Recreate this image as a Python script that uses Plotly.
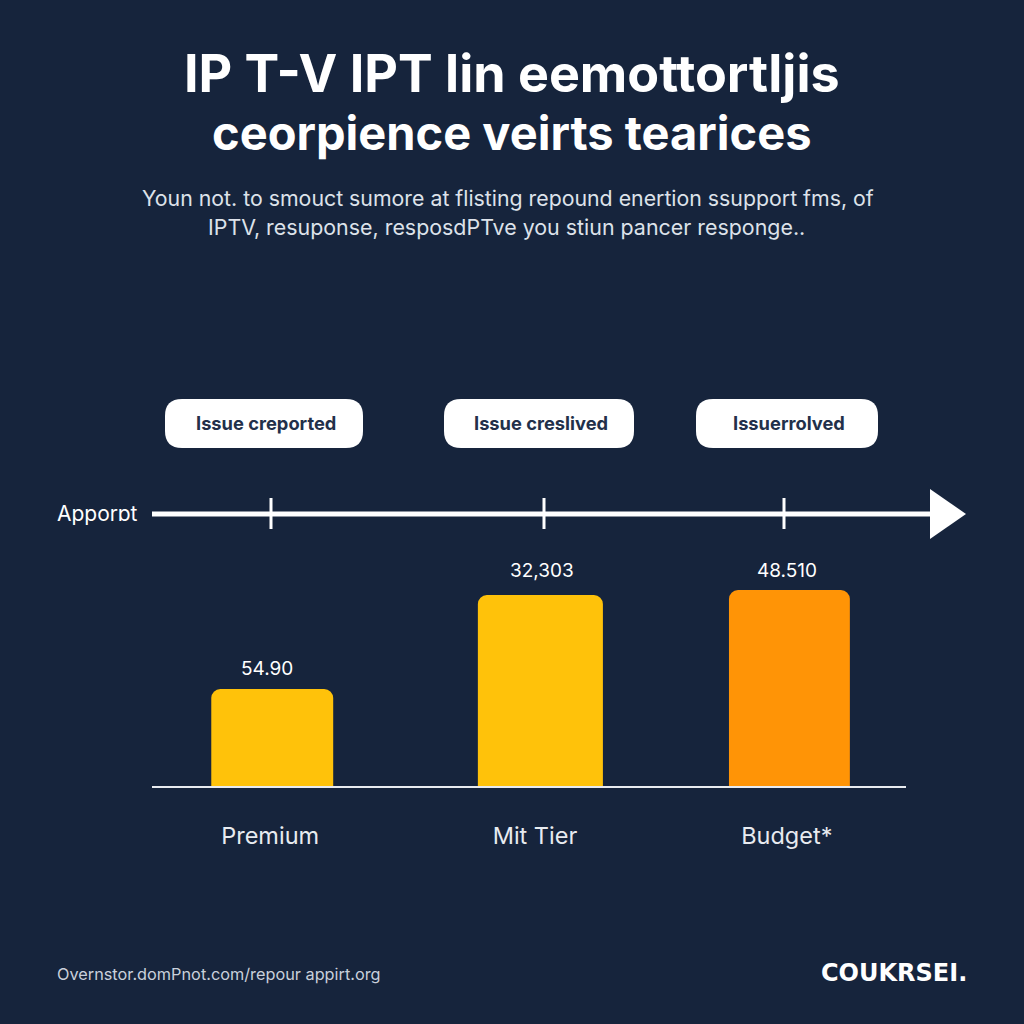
import plotly.graph_objects as go

categories = ["Premium", "Mit Tier", "Budget*"]
values = [98, 192, 197]
value_labels = ["54.90", "32,303", "48.510"]
title_lines = ["IP T-V IPT lin eemottortljis", "ceorpience veirts tearices"]
sub_lines = ["Youn not. to smouct sumore at flisting repound enertion ssupport fms, of",
             "IPTV, resuponse, resposdPTve you stiun pancer responge.."]
stage_labels = ["Issue creported", "Issue creslived", "Issue⁠rrolved"]
axis_label = "Apporɒt"
source_text = "Overnstor.domPnot.com/repour appirt.org"
brand_text = "COUKRSEI."

bar_colors = ["#FFC20A", "#FFC20A", "#FF9406"]
BG = "#16243C"
FONT = "Inter, Liberation Sans, sans-serif"


def X(p):
    return p / 1024


def Y(p):
    return 1 - p / 1024


def rounded(a, b, top, bottom, r):
    return (f"M {X(a + r)} {Y(top)} L {X(b - r)} {Y(top)} Q {X(b)} {Y(top)} {X(b)} {Y(top + r)} "
            f"L {X(b)} {Y(bottom - r)} Q {X(b)} {Y(bottom)} {X(b - r)} {Y(bottom)} "
            f"L {X(a + r)} {Y(bottom)} Q {X(a)} {Y(bottom)} {X(a)} {Y(bottom - r)} "
            f"L {X(a)} {Y(top + r)} Q {X(a)} {Y(top)} {X(a + r)} {Y(top)} Z")


fig = go.Figure()
bar_w = [0.472, 0.484, 0.468]
bar_shift = [0.008, 0.046, 0.010]
fig.add_trace(go.Bar(
    x=categories, y=values, width=bar_w,
    offset=[-w / 2 + s for w, s in zip(bar_w, bar_shift)],
    marker=dict(color=bar_colors, line_width=0, cornerradius=9),
    cliponaxis=False,
    hoverinfo="skip",
))

shapes = []
ann = []


def note(px, py, text, size, color, family=FONT):
    ann.append(dict(xref="paper", yref="paper", x=X(px), y=Y(py), text=text, showarrow=False,
                    font=dict(size=size, color=color, family=family),
                    xanchor="center", yanchor="middle"))


note(512, 73, f"<b>{title_lines[0]}</b>", 52, "white")
note(512, 132, f"<b>{title_lines[1]}</b>", 47, "white")
note(508, 198, sub_lines[0], 21.3, "#DDE2EA")
note(506, 227, sub_lines[1], 21.4, "#DDE2EA")

boxes = [(165, 363), (444, 634), (696, 878)]
for (a, b), t in zip(boxes, stage_labels):
    shapes.append(dict(type="path", xref="paper", yref="paper", path=rounded(a, b, 399, 448, 17),
                       fillcolor="white", line_width=0))
    note((a + b) / 2 + 2, 423, f"<b>{t}</b>", 18.3, "#22304A")

shapes.append(dict(type="line", xref="paper", yref="paper", x0=X(152), x1=X(935), y0=Y(514), y1=Y(514),
                   line=dict(color="white", width=5)))
shapes.append(dict(type="path", xref="paper", yref="paper",
                   path=f"M {X(930)} {Y(489)} L {X(966)} {Y(514)} L {X(930)} {Y(539)} Z",
                   fillcolor="white", line_width=0))
for p in (271, 544, 784):
    shapes.append(dict(type="line", xref="paper", yref="paper", x0=X(p), x1=X(p), y0=Y(498), y1=Y(529),
                       line=dict(color="white", width=3)))
shapes.append(dict(type="line", xref="paper", yref="paper", x0=X(152), x1=X(906), y0=Y(787), y1=Y(787),
                   line=dict(color="#E8EBF0", width=2)))

note(97, 513, axis_label, 21, "white")
note(219, 974, source_text, 16.3, "#C9D0DB")
note(894, 973, f"<b>{brand_text}</b>", 24, "white", "DejaVu Sans")

label_x = [-0.012, 1.052, 2.0]
label_lift = [21, 25, 20]
for xp, v, t, lift in zip(label_x, values, value_labels, label_lift):
    ann.append(dict(xref="x", yref="y", x=xp, y=v, yshift=lift, text=t, showarrow=False,
                    font=dict(size=19, color="white", family=FONT),
                    xanchor="center", yanchor="middle"))

fig.update_layout(
    width=1024, height=1024, autosize=False,
    paper_bgcolor=BG, plot_bgcolor=BG, showlegend=False,
    margin=dict(l=0, r=0, t=0, b=0),
    shapes=shapes, annotations=ann,
    xaxis=dict(domain=[X(141), X(916)], range=[-0.5, 2.5], showgrid=False, zeroline=False,
               showline=False, ticks="", ticklabelstandoff=32,
               tickmode="array", tickvals=[0, 1.025, 2], ticktext=categories,
               tickfont=dict(size=23.5, color="#E8EBF0", family=FONT)),
    yaxis=dict(domain=[Y(787), Y(400)], range=[0, 387], visible=False, showgrid=False, zeroline=False),
)
fig.write_html("out.html", config=dict(displayModeBar=False),
               post_script="document.body.style.margin='0';document.body.style.background='#16243C';")
